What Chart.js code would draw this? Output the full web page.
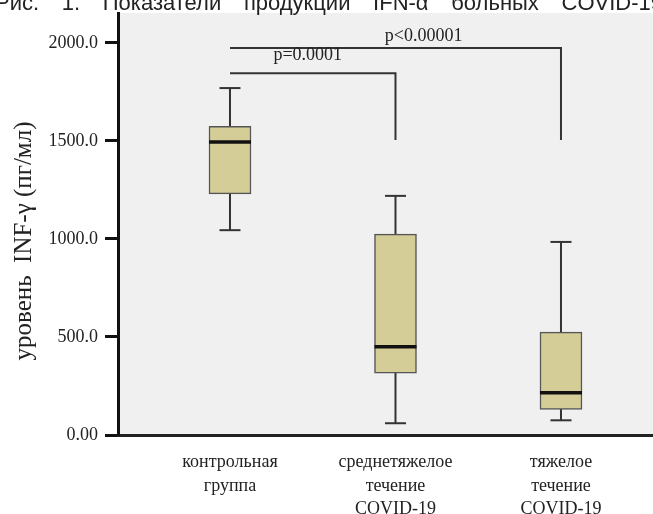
<!DOCTYPE html>
<html>
<head>
<meta charset="utf-8">
<script src="https://cdn.jsdelivr.net/npm/chart.js@4.4.1/dist/chart.umd.min.js"></script>
<style>
  body { margin: 0; background: #fff; }
  canvas { display: block; }
</style>
</head>
<body>
<canvas id="myChart" width="653" height="514"></canvas>
<script>
// подписи групп и их положение на оси X
var groupLabels = [['контрольная', 'группа'], ['среднетяжелое', 'течение', 'COVID-19'], ['тяжелое', 'течение', 'COVID-19']];
var groupPos = [1, 2, 3];

// ось Y
var yTickValues = [0, 500, 1000, 1500, 2000];
var yTickLabels = ['0.00', '500.0', '1000.0', '1500.0', '2000.0'];
var yTitle = 'уровень  INF-γ (пг/мл)';

// боксплоты (пг/мл)
var whiskerLow = [1045, 60, 75];
var boxLow = [1230, 315, 130];
var medians = [1495, 450, 215];
var boxHigh = [1575, 1025, 525];
var whiskerHigh = [1770, 1220, 985];

// скобки значимости
var bracketFrom = [1, 1];
var bracketTo = [2, 3];
var bracketTop = [1845, 1975];
var bracketEnd = [1505, 1505];
var bracketText = ['p=0.0001', 'p<0.00001'];
var bracketTextX = [1.47, 2.17];
var bracketTextY = [1915, 2010];

var titleText = 'Рис. 1. Показатели продукции IFN-α больных COVID-19';

var serif = "'Liberation Serif', 'DejaVu Serif', serif";

// данные для Chart.js
var boxes = groupPos.map(function (x, i) { return { x: x, y: [boxLow[i], boxHigh[i]] }; });
var whiskers = [];
groupPos.forEach(function (x, i) {
    whiskers.push({ x: x, y: whiskerLow[i] }, { x: x, y: whiskerHigh[i] }, { x: x, y: null });
});
var caps = [];
groupPos.forEach(function (x, i) {
    caps.push({ x: x, y: whiskerLow[i] }, { x: x, y: whiskerHigh[i] });
});
var medianPts = groupPos.map(function (x, i) { return { x: x, y: medians[i] }; });

var bracketSets = bracketFrom.map(function (from, i) {
    return {
        type: 'line',
        data: [{ x: from, y: bracketTop[i] }, { x: bracketTo[i], y: bracketTop[i] }, { x: bracketTo[i], y: bracketEnd[i] }],
        borderColor: '#333',
        borderWidth: 2,
        pointRadius: 0,
        order: 4
    };
});

// фон области графика
var plotBg = {
    id: 'plotBg',
    beforeDraw: function (chart) {
        var a = chart.chartArea, ctx = chart.ctx;
        ctx.save();
        ctx.fillStyle = '#f0f0f0';
        ctx.fillRect(a.left, a.top, a.right - a.left, a.bottom - a.top);
        ctx.restore();
    }
};

// подписи p над скобками, подпись оси Y и обрезанный заголовок сверху
var extraText = {
    id: 'extraText',
    afterDraw: function (chart) {
        var ctx = chart.ctx, xs = chart.scales.x, ys = chart.scales.y;
        ctx.save();
        ctx.fillStyle = '#222';
        ctx.font = '18px ' + serif;
        ctx.textAlign = 'center';
        ctx.textBaseline = 'alphabetic';
        bracketText.forEach(function (t, i) {
            ctx.fillText(t, xs.getPixelForValue(bracketTextX[i]), ys.getPixelForValue(bracketTextY[i]));
        });

        // подпись оси Y (немного ниже центра оси, как в оригинале)
        ctx.save();
        ctx.translate(24, (chart.chartArea.top + chart.chartArea.bottom) / 2 + 17);
        ctx.rotate(-Math.PI / 2);
        ctx.font = '25px ' + serif;
        ctx.textBaseline = 'middle';
        ctx.fillText(yTitle, 0, 0);
        ctx.restore();

        ctx.font = "22px 'Liberation Sans', Arial, sans-serif";
        ctx.textAlign = 'left';
        var natural = ctx.measureText(titleText).width;
        var spaces = titleText.split(' ').length - 1;
        ctx.wordSpacing = ((668 - natural) / spaces) + 'px';
        ctx.fillText(titleText, -5, 10);
        ctx.restore();
    }
};

var ctx = document.getElementById('myChart');

var myChart = new Chart(ctx, {
    type: 'bar',
    data: {
        datasets: [
            {
                type: 'scatter',
                data: medianPts,
                pointStyle: 'line',
                radius: 21,
                borderWidth: 3.5,
                borderColor: '#111',
                order: 0
            },
            {
                type: 'scatter',
                data: caps,
                pointStyle: 'line',
                radius: 10.5,
                borderWidth: 2,
                borderColor: '#333',
                order: 1
            },
            {
                type: 'bar',
                data: boxes,
                backgroundColor: '#d4cd98',
                borderColor: '#555',
                borderWidth: 1.5,
                borderSkipped: false,
                barThickness: 42,
                order: 2
            },
            {
                type: 'line',
                data: whiskers,
                borderColor: '#333',
                borderWidth: 2,
                pointRadius: 0,
                spanGaps: false,
                order: 3
            }
        ].concat(bracketSets)
    },
    options: {
        responsive: false,
        animation: false,
        devicePixelRatio: 1,
        layout: { autoPadding: false, padding: { top: 13, left: 0, right: 0, bottom: 0 } },
        plugins: {
            legend: { display: false },
            tooltip: { enabled: false }
        },
        scales: {
            x: {
                type: 'linear',
                min: 0.3233,
                max: 3.556,
                offset: false,
                grid: { display: true, drawOnChartArea: false, drawTicks: false, offset: false },
                border: { display: true, color: '#222', width: 3 },
                afterBuildTicks: function (scale) {
                    scale.ticks = groupPos.map(function (v) { return { value: v }; });
                },
                afterFit: function (scale) {
                    scale.height = 79;
                    scale.paddingLeft = 0;
                    scale.paddingRight = 0;
                },
                ticks: {
                    autoSkip: false,
                    maxRotation: 0,
                    padding: 16,
                    color: '#222',
                    font: { family: serif, size: 18, lineHeight: 1.3 },
                    callback: function (value, index) { return groupLabels[index]; }
                }
            },
            y: {
                min: 0,
                max: 2153,
                grid: { display: true, drawOnChartArea: false, drawTicks: true, tickLength: 13, tickColor: '#111', tickWidth: 3 },
                border: { display: true, color: '#111', width: 3 },
                afterBuildTicks: function (scale) {
                    scale.ticks = yTickValues.map(function (v) { return { value: v }; });
                },
                afterFit: function (scale) {
                    scale.width = 118;
                    scale.paddingTop = 0;
                    scale.paddingBottom = 0;
                },
                ticks: {
                    padding: 7,
                    color: '#222',
                    font: { family: serif, size: 18 },
                    callback: function (value, index) { return yTickLabels[index]; }
                }
            }
        }
    },
    plugins: [plotBg, extraText]
});
</script>
</body>
</html>
